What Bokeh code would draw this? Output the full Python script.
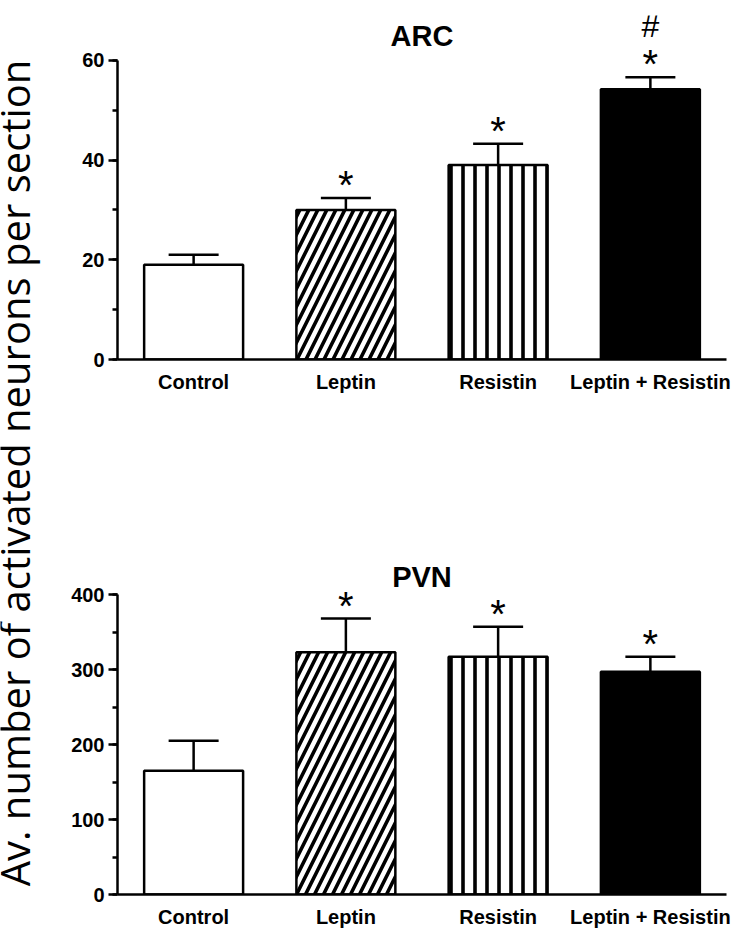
import math
from bokeh.plotting import figure
from bokeh.models import (ColumnDataSource, FactorRange, Range1d, Label, Whisker,
                          TeeHead, SingleIntervalTicker)
from bokeh.layouts import row, column
from bokeh.core.properties import value
from bokeh.embed import file_html
from bokeh.resources import INLINE

# ---------------- data ----------------
categories = ["Control", "Leptin", "Resistin", "Leptin + Resistin"]
arc_mean = [19.0, 30.0, 39.0, 54.2]
arc_sem = [2.0, 2.4, 4.3, 2.4]
arc_star = ["", "*", "*", "*"]
arc_hash = ["", "", "", "#"]
pvn_mean = [165.0, 323.0, 317.0, 297.0]
pvn_sem = [40.0, 45.0, 40.0, 20.0]
pvn_star = ["", "*", "*", "*"]
pvn_hash = ["", "", "", ""]
fills = ["white", "white", "white", "black"]
hatches = [" ", "/", "|", " "]
hatch_scales = [10, 18, 12, 10]
y_label = "Av. number of activated neurons per section"

FONT = "Liberation Sans"


def panel(title, mean, sem, stars, hashes, height, ymax, ytop, interval,
          border_top, border_bottom, title_y):
    upper = [m + s for m, s in zip(mean, sem)]
    src = ColumnDataSource(dict(cat=categories, mean=mean, upper=upper,
                                fill=fills, hatch=hatches, hscale=hatch_scales,
                                star=stars, hsh=hashes))
    p = figure(x_range=FactorRange(*categories, range_padding=0),
               y_range=Range1d(0, ytop), width=691, height=height,
               output_backend="svg", toolbar_location=None,
               min_border_left=69, min_border_right=13,
               min_border_top=border_top, min_border_bottom=border_bottom)
    p.outline_line_color = None
    p.xgrid.grid_line_color = None
    p.ygrid.grid_line_color = None
    p.background_fill_color = "white"
    p.border_fill_color = "white"

    p.vbar(x="cat", top="mean", width=0.65, source=src, fill_color="fill",
           line_color="black", line_width=2.5, hatch_pattern="hatch",
           hatch_color="black", hatch_scale="hscale", hatch_weight=3.6)

    w = Whisker(source=src, base="cat", upper="upper", lower="mean",
                line_color="black", line_width=2.5,
                upper_head=TeeHead(size=50, line_color="black", line_width=2.5),
                lower_head=None)
    p.add_layout(w)

    p.text(x="cat", y="upper", text="star", source=src, text_align="center",
           text_baseline="alphabetic", y_offset=-13,
           text_font=value(FONT), text_font_size="40px", text_color="black")
    p.text(x="cat", y="upper", text="hsh", source=src, text_align="center",
           text_baseline="alphabetic", y_offset=-51,
           text_font=value(FONT), text_font_size="32px", text_color="black")

    p.add_layout(Label(x=2.0, y=title_y, text=title, text_align="center",
                       text_baseline="alphabetic", text_font=FONT,
                       text_font_size="29px", text_font_style="bold",
                       text_color="black"))

    ya = p.yaxis[0]
    ya.ticker = SingleIntervalTicker(interval=interval, num_minor_ticks=2)
    ya.bounds = (0, ymax)
    ya.axis_line_width = 2.5
    ya.axis_line_color = "black"
    ya.major_tick_line_width = 2.5
    ya.minor_tick_line_width = 2.5
    ya.major_tick_line_color = "black"
    ya.minor_tick_line_color = "black"
    ya.major_tick_out = 9
    ya.major_tick_in = 0
    ya.minor_tick_out = 5
    ya.minor_tick_in = 0
    ya.major_label_standoff = 4
    ya.major_label_text_font = FONT
    ya.major_label_text_font_size = "20px"
    ya.major_label_text_font_style = "bold"
    ya.major_label_text_color = "black"

    xa = p.xaxis[0]
    xa.axis_line_width = 2.5
    xa.axis_line_color = "black"
    xa.major_tick_line_color = None
    xa.minor_tick_line_color = None
    xa.major_tick_out = 0
    xa.major_tick_in = 0
    xa.major_label_standoff = 11
    xa.major_label_text_font = FONT
    xa.major_label_text_font_size = "20px"
    xa.major_label_text_font_style = "bold"
    xa.major_label_text_color = "black"
    return p


top = panel("ARC", arc_mean, arc_sem, arc_star, arc_hash, height=480,
            ymax=60, ytop=69, interval=20, border_top=15, border_bottom=121,
            title_y=64.8)
bottom = panel("PVN", pvn_mean, pvn_sem, pvn_star, pvn_hash, height=455,
               ymax=400, ytop=472, interval=100, border_top=60, border_bottom=41,
               title_y=422.7)

lab = figure(width=48, height=935, x_range=Range1d(0, 48), y_range=Range1d(0, 935),
             output_backend="svg", toolbar_location=None, min_border=0)
lab.axis.visible = False
lab.grid.visible = False
lab.outline_line_color = None
lab.add_layout(Label(x=14, y=462.5, text=y_label, angle=math.pi / 2,
                     text_align="center", text_baseline="alphabetic",
                     text_font="Open Sans", text_font_size="40px",
                     text_color="black"))

layout = row(lab, column(top, bottom))
open("out.html", "w").write(file_html(layout, INLINE))
